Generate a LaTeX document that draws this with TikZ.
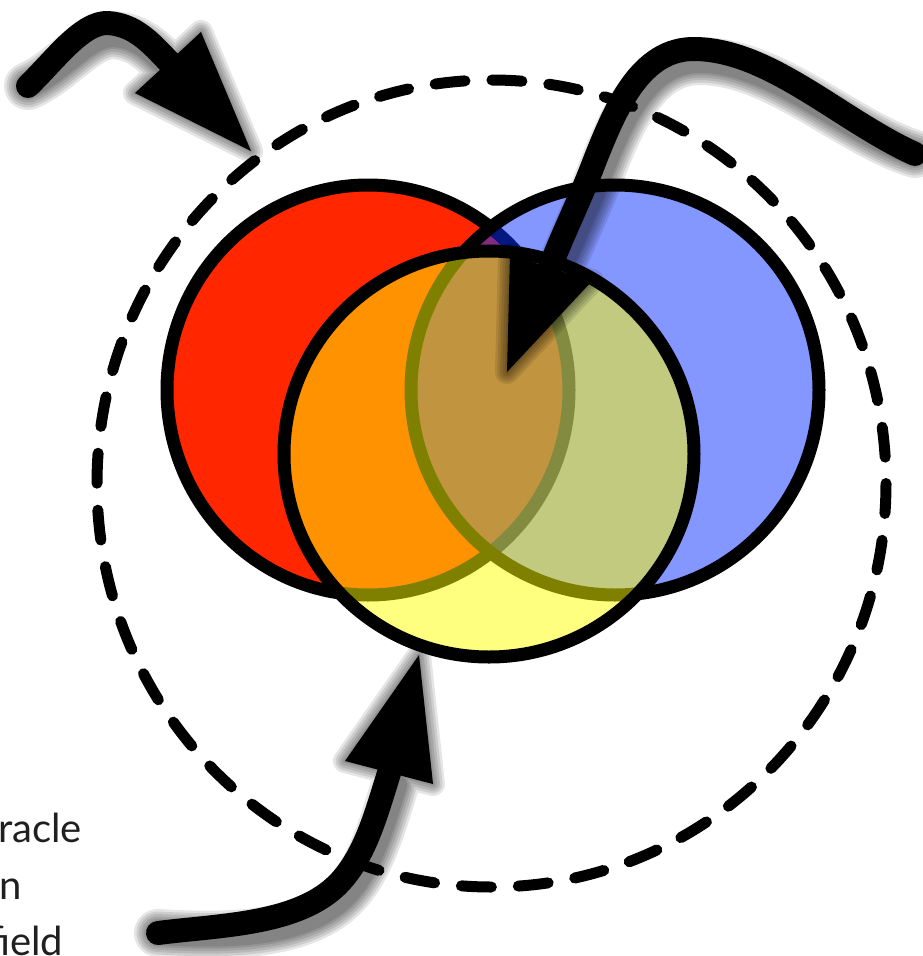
\documentclass[tikz,border=0pt]{standalone}
\usepackage{fontspec}
\setmainfont{Lato}
\definecolor{redc}{RGB}{255,38,0}
\definecolor{bluec}{RGB}{10,46,255}
\definecolor{yelc}{RGB}{255,255,0}
\begin{document}
\begin{tikzpicture}[x=1pt,y=-1pt,
  outline/.style={line width=13pt,draw=black},
  shaft/.style={line width=24pt,line cap=round,line join=round},
  dashring/.style={line width=11pt,line cap=round,dash pattern=on 30pt off 27pt},
  lbl/.style={font=\fontsize{40}{48}\selectfont,anchor=base west,inner sep=0pt,text=black!88}
]
\useasboundingbox (0,0) rectangle (922,956);
\fill[white] (0,0) rectangle (922,956);

% centres
\coordinate (cr) at (368,390);
\coordinate (cb) at (615,390);
\coordinate (cy) at (489,454);
\coordinate (cd) at (491.5,483.5);

% circles
\draw[outline,fill=redc] (cr) ellipse [x radius=201,y radius=205];
\draw[outline,fill=bluec,fill opacity=0.5] (cb) ellipse [x radius=204,y radius=205];
\draw[outline,fill=yelc,fill opacity=0.5] (cy) ellipse [x radius=205,y radius=203];

% dashed ring
\draw[dashring] (cd) ellipse [x radius=394.5,y radius=403.5];

% arrow geometry
\coordinate (tA) at (251,151); \coordinate (a1) at (135,93); \coordinate (a2) at (201,32);
\coordinate (sA) at (28,86);
\coordinate (tB) at (507,372); \coordinate (b1) at (510,255); \coordinate (b2) at (592,281);
\coordinate (sB) at (915,154);
\coordinate (tC) at (419,655); \coordinate (c1) at (345,761); \coordinate (c2) at (433,784);
\coordinate (sC) at (158,933);

\def\pathA{(sA) .. controls (55,60) and (82,22) .. (108,23) .. controls (135,25) and (150,42) .. (170,63)}
\def\headA{(tA) -- (a1) -- (a2) -- cycle}
\def\pathB{(sB) .. controls (840,120) and (770,50) .. (695,49) .. controls (640,48) and (615,110) .. (595,160) .. controls (580,200) and (560,240) .. (550,268)}
\def\headB{(tB) -- (b1) -- (b2) -- cycle}
\def\pathC{(sC) .. controls (220,925) and (300,925) .. (340,882) .. controls (365,855) and (376,815) .. (389,773)}
\def\headC{(tC) -- (c1) -- (c2) -- cycle}

% soft shadows
\foreach \w/\h in {48/24,43/19,38/14,33/9,28/4,24/0.1}{
  \begin{scope}[transparency group,opacity=0.1,shift={(6,12)}]
    \draw[line width=\w pt,line cap=round,line join=round] \pathA;
    \filldraw[line width=\h pt,line join=round] \headA;
    \draw[line width=\w pt,line cap=round,line join=round] \pathB;
    \filldraw[line width=\h pt,line join=round] \headB;
    \draw[line width=\w pt,line cap=round,line join=round] \pathC;
    \filldraw[line width=\h pt,line join=round] \headC;
  \end{scope}
}

% arrows
\draw[shaft] \pathA; \fill \headA;
\draw[shaft] \pathB; \fill \headB;
\draw[shaft] \pathC; \fill \headC;

% partial label
\node[lbl] (l1) at (-2,842) {racle};
\node[lbl] (l2) at (-1,899) {n};
\node[lbl] (l3) at (-13,955) {field};
\end{tikzpicture}
\end{document}
